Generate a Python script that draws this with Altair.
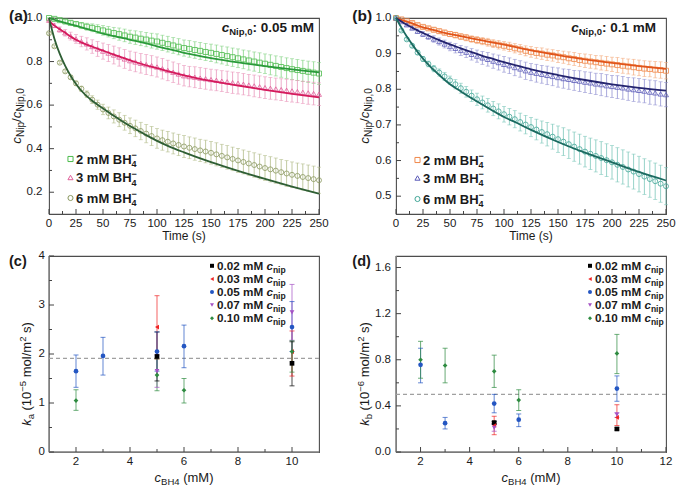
import altair as alt
import pandas as pd

FONT = "Liberation Sans"
INK = "#1a1a1a"
FRAME = "#4d4d4d"
TICK = "#444444"

# ---------------- data ----------------
t_data = list(range(0, 251, 5))
t_fit = [0, 5, 10, 15, 20, 25, 30, 40, 50, 60, 70, 80, 90, 100, 110, 125, 150, 175, 200, 225, 250]

# panel (a): c_Nip,0 = 0.05 mM
a2_val = [1.000, 0.996, 0.990, 0.984, 0.978, 0.972, 0.966, 0.960, 0.955, 0.949, 0.943,
          0.937, 0.931, 0.926, 0.920, 0.914, 0.910, 0.905, 0.901, 0.896, 0.892,
          0.886, 0.880, 0.874, 0.868, 0.862, 0.858, 0.853, 0.849, 0.844, 0.840,
          0.835, 0.830, 0.825, 0.820, 0.815, 0.810, 0.805, 0.800, 0.795, 0.790,
          0.785, 0.780, 0.775, 0.770, 0.765, 0.761, 0.757, 0.753, 0.749, 0.745]
a2_err = [0.003, 0.005, 0.007, 0.008, 0.009, 0.010, 0.013, 0.016, 0.018, 0.020, 0.022,
          0.024, 0.026, 0.028, 0.029, 0.030, 0.031, 0.032, 0.033, 0.034, 0.035,
          0.035, 0.036, 0.036, 0.037, 0.037, 0.038, 0.038, 0.039, 0.039, 0.040,
          0.041, 0.041, 0.042, 0.042, 0.043, 0.043, 0.044, 0.044, 0.045, 0.045,
          0.046, 0.046, 0.047, 0.047, 0.048, 0.048, 0.049, 0.049, 0.050, 0.050]
a2_fit = [1.000, 0.992, 0.985, 0.978, 0.971, 0.965, 0.957, 0.943, 0.928, 0.917, 0.906,
          0.895, 0.883, 0.870, 0.858, 0.840, 0.816, 0.796, 0.779, 0.764, 0.750]

a3_val = [0.990, 0.966, 0.947, 0.932, 0.917, 0.904, 0.892, 0.881, 0.869, 0.858, 0.848,
          0.839, 0.830, 0.821, 0.812, 0.804, 0.798, 0.792, 0.786, 0.781, 0.775,
          0.767, 0.759, 0.751, 0.743, 0.735, 0.731, 0.728, 0.724, 0.721, 0.717,
          0.714, 0.710, 0.707, 0.703, 0.700, 0.696, 0.692, 0.688, 0.684, 0.680,
          0.677, 0.674, 0.671, 0.668, 0.665, 0.662, 0.659, 0.656, 0.653, 0.650]
a3_err = [0.005, 0.010, 0.012, 0.015, 0.018, 0.020, 0.024, 0.028, 0.031, 0.034, 0.037,
          0.039, 0.041, 0.042, 0.043, 0.044, 0.045, 0.045, 0.046, 0.046, 0.046,
          0.047, 0.047, 0.047, 0.047, 0.047, 0.047, 0.048, 0.048, 0.048, 0.048,
          0.048, 0.048, 0.049, 0.049, 0.049, 0.049, 0.049, 0.050, 0.050, 0.050,
          0.050, 0.050, 0.050, 0.051, 0.051, 0.051, 0.051, 0.052, 0.052, 0.052]
a3_fit = [0.985, 0.965, 0.948, 0.932, 0.915, 0.900, 0.888, 0.868, 0.850, 0.832, 0.815,
          0.798, 0.783, 0.770, 0.756, 0.737, 0.711, 0.690, 0.670, 0.652, 0.636]

a6_val = [0.930, 0.870, 0.795, 0.755, 0.728, 0.700, 0.675, 0.650, 0.625, 0.602, 0.580,
          0.564, 0.548, 0.533, 0.519, 0.505, 0.493, 0.481, 0.469, 0.458, 0.447,
          0.439, 0.432, 0.424, 0.417, 0.410, 0.404, 0.398, 0.392, 0.387, 0.381,
          0.374, 0.367, 0.360, 0.353, 0.346, 0.339, 0.332, 0.325, 0.318, 0.311,
          0.305, 0.299, 0.292, 0.286, 0.280, 0.275, 0.270, 0.265, 0.260, 0.255]
a6_err = [0.004, 0.005, 0.006, 0.007, 0.008, 0.010, 0.012, 0.015, 0.018, 0.021, 0.024,
          0.027, 0.030, 0.032, 0.034, 0.036, 0.038, 0.040, 0.042, 0.044, 0.045,
          0.046, 0.047, 0.048, 0.049, 0.050, 0.050, 0.051, 0.051, 0.052, 0.052,
          0.053, 0.053, 0.054, 0.054, 0.055, 0.055, 0.056, 0.056, 0.057, 0.057,
          0.058, 0.058, 0.058, 0.059, 0.059, 0.059, 0.060, 0.060, 0.060, 0.060]
a6_fit = [1.000, 0.905, 0.835, 0.780, 0.735, 0.697, 0.666, 0.620, 0.585, 0.551, 0.519,
          0.490, 0.462, 0.436, 0.413, 0.383, 0.338, 0.298, 0.261, 0.226, 0.193]

# panel (b): c_Nip,0 = 0.1 mM
b2_val = [1.000, 0.996, 0.991, 0.986, 0.980, 0.975, 0.971, 0.967, 0.963, 0.959, 0.955,
          0.952, 0.948, 0.945, 0.941, 0.938, 0.935, 0.932, 0.928, 0.925, 0.922,
          0.919, 0.915, 0.912, 0.908, 0.905, 0.902, 0.900, 0.897, 0.895, 0.892,
          0.890, 0.887, 0.885, 0.882, 0.880, 0.878, 0.876, 0.874, 0.872, 0.870,
          0.868, 0.866, 0.864, 0.862, 0.860, 0.858, 0.857, 0.855, 0.854, 0.852]
b2_err = [0.002, 0.003, 0.003, 0.004, 0.004, 0.005, 0.005, 0.006, 0.006, 0.007, 0.007,
          0.008, 0.008, 0.009, 0.009, 0.010, 0.010, 0.011, 0.011, 0.012, 0.012,
          0.013, 0.013, 0.014, 0.014, 0.015, 0.015, 0.016, 0.016, 0.016, 0.017,
          0.017, 0.018, 0.018, 0.018, 0.019, 0.019, 0.019, 0.020, 0.020, 0.020,
          0.021, 0.021, 0.021, 0.022, 0.022, 0.022, 0.022, 0.023, 0.023, 0.023]
b2_fit = [1.000, 0.995, 0.990, 0.985, 0.979, 0.974, 0.970, 0.962, 0.955, 0.949, 0.943,
          0.937, 0.931, 0.925, 0.919, 0.909, 0.896, 0.884, 0.874, 0.865, 0.857]

b3_val = [1.000, 0.990, 0.981, 0.972, 0.963, 0.955, 0.948, 0.941, 0.934, 0.927, 0.920,
          0.915, 0.909, 0.904, 0.898, 0.893, 0.888, 0.884, 0.879, 0.875, 0.870,
          0.866, 0.861, 0.857, 0.852, 0.848, 0.845, 0.842, 0.839, 0.836, 0.833,
          0.830, 0.828, 0.825, 0.823, 0.820, 0.818, 0.815, 0.813, 0.810, 0.808,
          0.806, 0.804, 0.801, 0.799, 0.797, 0.795, 0.792, 0.790, 0.787, 0.785]
b3_err = [0.002, 0.003, 0.004, 0.005, 0.006, 0.007, 0.008, 0.009, 0.010, 0.011, 0.012,
          0.013, 0.014, 0.015, 0.016, 0.017, 0.018, 0.019, 0.020, 0.021, 0.022,
          0.022, 0.023, 0.023, 0.024, 0.024, 0.025, 0.025, 0.026, 0.026, 0.027,
          0.027, 0.028, 0.028, 0.029, 0.029, 0.030, 0.030, 0.031, 0.031, 0.031,
          0.032, 0.032, 0.032, 0.033, 0.033, 0.033, 0.034, 0.034, 0.034, 0.034]
b3_fit = [1.000, 0.990, 0.981, 0.973, 0.965, 0.958, 0.951, 0.938, 0.926, 0.915, 0.904,
          0.894, 0.885, 0.876, 0.868, 0.856, 0.840, 0.826, 0.814, 0.804, 0.796]

b6_val = [1.000, 0.965, 0.940, 0.922, 0.903, 0.885, 0.871, 0.858, 0.847, 0.836, 0.825,
          0.814, 0.803, 0.793, 0.782, 0.772, 0.763, 0.755, 0.746, 0.738, 0.730,
          0.723, 0.716, 0.708, 0.701, 0.694, 0.687, 0.680, 0.674, 0.667, 0.660,
          0.653, 0.646, 0.639, 0.632, 0.625, 0.619, 0.613, 0.607, 0.601, 0.595,
          0.588, 0.582, 0.575, 0.569, 0.562, 0.555, 0.548, 0.542, 0.535, 0.528]
b6_err = [0.002, 0.003, 0.004, 0.005, 0.006, 0.007, 0.008, 0.009, 0.010, 0.011, 0.012,
          0.013, 0.014, 0.015, 0.016, 0.017, 0.018, 0.019, 0.020, 0.021, 0.022,
          0.023, 0.024, 0.025, 0.026, 0.027, 0.029, 0.031, 0.033, 0.035, 0.037,
          0.039, 0.040, 0.041, 0.042, 0.043, 0.044, 0.045, 0.046, 0.046, 0.047,
          0.048, 0.048, 0.049, 0.049, 0.050, 0.050, 0.051, 0.051, 0.052, 0.052]
b6_fit = [1.000, 0.973, 0.948, 0.926, 0.905, 0.886, 0.869, 0.840, 0.814, 0.794, 0.775,
          0.757, 0.739, 0.722, 0.708, 0.686, 0.652, 0.622, 0.595, 0.568, 0.544]

decay_labels = ["2 mM BH", "3 mM BH", "6 mM BH"]

# panels (c) and (d)
cnip_series = ["0.02", "0.03", "0.05", "0.07", "0.10"]
cnip_labels = ["0.02 mM ", "0.03 mM ", "0.05 mM ", "0.07 mM ", "0.10 mM "]

c_x = {"0.02": [5, 10], "0.03": [5, 10], "0.05": [2, 3, 5, 6, 10], "0.07": [5, 10], "0.10": [2, 5, 6, 10]}
c_y = {"0.02": [1.95, 1.81], "0.03": [2.55, 2.05], "0.05": [1.65, 1.96, 2.05, 2.16, 2.55],
       "0.07": [1.65, 2.85], "0.10": [1.05, 1.57, 1.26, 2.05]}
c_lo = {"0.02": [1.45, 1.35], "0.03": [1.90, 1.55], "0.05": [1.32, 1.57, 1.65, 1.72, 2.05],
        "0.07": [1.32, 2.28], "0.10": [0.85, 1.25, 1.00, 1.63]}
c_hi = {"0.02": [2.45, 2.25], "0.03": [3.19, 2.47], "0.05": [1.98, 2.34, 2.45, 2.59, 3.07],
        "0.07": [1.98, 3.42], "0.10": [1.27, 1.90, 1.50, 2.27]}
c_mean = [1.91]

d_x = {"0.02": [5, 10], "0.03": [5, 10], "0.05": [2, 3, 5, 6, 10], "0.07": [5, 10], "0.10": [2, 3, 5, 6, 10]}
d_y = {"0.02": [0.255, 0.20], "0.03": [0.23, 0.30], "0.05": [0.756, 0.25, 0.42, 0.28, 0.55],
       "0.07": [0.21, 0.325], "0.10": [0.80, 0.75, 0.70, 0.45, 0.855]}
d_lo = {"0.02": [0.245, 0.19], "0.03": [0.15, 0.23], "0.05": [0.60, 0.20, 0.34, 0.22, 0.44],
        "0.07": [0.18, 0.30], "0.10": [0.64, 0.60, 0.56, 0.36, 0.68]}
d_hi = {"0.02": [0.265, 0.21], "0.03": [0.31, 0.41], "0.05": [0.90, 0.30, 0.50, 0.33, 0.66],
        "0.07": [0.24, 0.34], "0.10": [0.96, 0.90, 0.84, 0.54, 1.02]}
d_mean = [0.50]

SER_COLORS = ["#000000", "#f02424", "#2456c2", "#a552c4", "#2e8b40"]
SER_SHAPES = ["square", "triangle-left", "circle", "triangle-down", "diamond"]

# ---------------- helpers ----------------
W, H = 270, 196

REG = {" ": 278, "(": 333, ")": 333, ",": 278, ".": 278, "/": 278, ":": 278, "−": 584, "-": 333,
       "B": 667, "H": 722, "M": 833, "N": 722, "T": 611, "a": 556, "b": 556, "c": 500, "e": 556,
       "i": 222, "k": 500, "l": 222, "m": 833, "n": 556, "o": 556, "p": 556, "s": 500}
BOLD = {" ": 278, "(": 333, ")": 333, ",": 278, ".": 278, "/": 278, ":": 333, "−": 584, "-": 333,
        "B": 722, "H": 722, "M": 833, "N": 722, "T": 611, "a": 556, "b": 611, "c": 556, "e": 556,
        "i": 278, "k": 556, "l": 278, "m": 889, "n": 611, "o": 611, "p": 611, "s": 556}


def tw(s, size, bold):
    tab = BOLD if bold else REG
    return sum(tab.get(ch, 556) for ch in s) * size / 1000.0


DUMMY = pd.DataFrame({"k": [0]})


def txt(s, x, y, size, bold=False, italic=False, angle=None, baseline="alphabetic", align="left", color=INK):
    kw = dict(text=s, font=FONT, fontSize=size, fontWeight="bold" if bold else "normal",
              fontStyle="italic" if italic else "normal", baseline=baseline, align=align, color=color)
    if angle is not None:
        kw["angle"] = angle
    return alt.Chart(DUMMY).mark_text(**kw).encode(x=alt.value(x), y=alt.value(y))


def rich(pieces, x, y, anchor="left", rotate=False):
    total = sum(tw(p[0], p[1], p[2]) for p in pieces if len(p) < 6 or p[5])
    out = []
    cx = x - {"left": 0, "center": total / 2, "right": total}[anchor] if not rotate else x
    cy = y + total / 2 if rotate else y
    for p in pieces:
        s, size, bold, ital, shift = p[:5]
        lead = tw(s[:len(s) - len(s.lstrip(" "))], size, bold)
        body = s.strip(" ")
        if not rotate:
            out.append(txt(body, cx + lead, y + shift, size, bold, ital))
        else:
            out.append(txt(body, x + shift, cy - lead, size, bold, ital, angle=270))
        if len(p) < 6 or p[5]:
            if rotate:
                cy -= tw(s, size, bold)
            else:
                cx += tw(s, size, bold)
    return out


def frame_layers(xs, ys, xmaj, xmin, ymaj, ymin, xfmt, yfmt, ylabx, domain_line):
    xl = pd.DataFrame({"v": xmaj, "lab": [format(v, xfmt) for v in xmaj]})
    yl = pd.DataFrame({"v": ymaj, "lab": [format(v, yfmt) for v in ymaj]})
    lay = []
    if domain_line:
        lay += [
            alt.Chart(DUMMY).mark_rule(color="#8a8a8a", strokeWidth=1.6).encode(
                x=alt.value(0), y=alt.value(0), y2=alt.value(H)),
            alt.Chart(DUMMY).mark_rule(color="#8a8a8a", strokeWidth=1.6).encode(
                x=alt.value(0), x2=alt.value(W), y=alt.value(H)),
        ]
    lay += [
        alt.Chart(pd.DataFrame({"v": xmaj})).mark_rule(color=TICK, strokeWidth=1).encode(
            x=alt.X("v:Q", scale=xs, axis=None), y=alt.value(H), y2=alt.value(H - 5)),
        alt.Chart(pd.DataFrame({"v": xmin})).mark_rule(color=TICK, strokeWidth=1).encode(
            x=alt.X("v:Q", scale=xs, axis=None), y=alt.value(H), y2=alt.value(H - 3)),
        alt.Chart(pd.DataFrame({"v": ymaj})).mark_rule(color=TICK, strokeWidth=1).encode(
            y=alt.Y("v:Q", scale=ys, axis=None), x=alt.value(0), x2=alt.value(5)),
        alt.Chart(pd.DataFrame({"v": ymin})).mark_rule(color=TICK, strokeWidth=1).encode(
            y=alt.Y("v:Q", scale=ys, axis=None), x=alt.value(0), x2=alt.value(3)),
        alt.Chart(xl).mark_text(font=FONT, fontSize=11.5, color=INK, align="center", baseline="top").encode(
            x=alt.X("v:Q", scale=xs, axis=None), y=alt.value(H + 4), text="lab:N"),
        alt.Chart(yl).mark_text(font=FONT, fontSize=11.5, color=INK, align="right", baseline="middle").encode(
            y=alt.Y("v:Q", scale=ys, axis=None), x=alt.value(ylabx), text="lab:N"),
    ]
    return lay


def decay_series(vals, errs, pt_color, err_color, shape, xs, ys):
    df = pd.DataFrame([{"t": t, "v": v, "lo": v - e, "hi": v + e} for t, v, e in zip(t_data, vals, errs)])
    X = alt.X("t:Q", scale=xs, axis=None)
    base = alt.Chart(df)
    return [
        base.mark_rule(color=err_color, strokeWidth=0.8).encode(
            x=X, y=alt.Y("lo:Q", scale=ys, axis=None), y2="hi:Q"),
        base.mark_tick(color=err_color, orient="horizontal", size=4, thickness=0.8).encode(
            x=X, y=alt.Y("lo:Q", scale=ys, axis=None)),
        base.mark_tick(color=err_color, orient="horizontal", size=4, thickness=0.8).encode(
            x=X, y=alt.Y("hi:Q", scale=ys, axis=None)),
        base.mark_point(shape=shape, filled=False, size=25, strokeWidth=0.8, color=pt_color, opacity=1).encode(
            x=X, y=alt.Y("v:Q", scale=ys, axis=None)),
    ]


def fit_line(fit, color, xs, ys):
    fdf = pd.DataFrame({"t": t_fit, "f": fit})
    return alt.Chart(fdf).mark_line(color=color, strokeWidth=1.8, interpolate="monotone").encode(
        x=alt.X("t:Q", scale=xs, axis=None), y=alt.Y("f:Q", scale=ys, axis=None))


def decay_panel(label, label_x, ydom, ymaj, ymin, series, note, note_dx, ylabx, ytitle_x, leg_rows):
    xs = alt.Scale(domain=[0, 250], nice=False, zero=False)
    ys = alt.Scale(domain=ydom, nice=False, zero=False)
    layers = frame_layers(xs, ys, list(range(0, 251, 25)), [12.5 + 25 * i for i in range(10)],
                          ymaj, ymin, "d", ".1f", ylabx, False)
    layers.append(txt("Time (s)", W / 2, H + 26, 12, align="center"))
    for vals, errs, fit, pc, ec, lc, shp in series:
        layers += decay_series(vals, errs, pc, ec, shp, xs, ys)
    for vals, errs, fit, pc, ec, lc, shp in series:
        layers.append(fit_line(fit, lc, xs, ys))
    layers.append(txt(label, label_x, -9, 15.5, bold=True, baseline="top"))
    layers += rich([("c", 13.5, False, True, 0), ("Nip", 10, False, False, 3), ("/", 13.5, False, False, 0),
                    ("c", 13.5, False, True, 0), ("Nip,0", 10, False, False, 3)],
                   ytitle_x, H / 2, rotate=True)
    layers += rich([("c", 13.5, True, True, 0), ("Nip,0", 9.5, True, False, 3), (note, 13.5, True, False, 0)],
                   W - note_dx, 14, anchor="right")
    for (lab, (vals, errs, fit, pc, ec, lc, shp)), yc in zip(zip(decay_labels, series), leg_rows):
        layers.append(alt.Chart(DUMMY).mark_point(shape=shp, filled=False, size=26, strokeWidth=1,
                                                  color=pc, opacity=1).encode(x=alt.value(21.5), y=alt.value(yc)))
        layers += rich([(lab, 13, True, False, 0), ("4", 9, True, False, 3.5, False), ("−", 9, True, False, -5.5)],
                       27, yc + 4.5)
    return alt.layer(*layers).properties(width=W, height=H)


def scatter_panel(label, label_x, xdom, xmaj, xmin, ydom, ymaj, ymin, yfmt, ylabx,
                  xd, yd, lod, hid, mean, kletter, kexp, ytitle_x, leg_x):
    xs = alt.Scale(domain=xdom, nice=False, zero=False)
    ys = alt.Scale(domain=ydom, nice=False, zero=False)
    layers = frame_layers(xs, ys, xmaj, xmin, ymaj, ymin, "d", yfmt, ylabx, True)
    layers.append(alt.Chart(pd.DataFrame({"m": mean})).mark_rule(color="#a0a0a0", strokeDash=[4, 3],
                                                                  strokeWidth=1.1).encode(
        y=alt.Y("m:Q", scale=ys, axis=None)))
    rows = []
    for s in cnip_series:
        for x, y, lo, hi in zip(xd[s], yd[s], lod[s], hid[s]):
            rows.append({"s": s, "x": x, "y": y, "lo": lo, "hi": hi})
    df = pd.DataFrame(rows)
    col = alt.Color("s:N", scale=alt.Scale(domain=cnip_series, range=SER_COLORS), legend=None)
    shp = alt.Shape("s:N", scale=alt.Scale(domain=cnip_series, range=SER_SHAPES), legend=None)
    X = alt.X("x:Q", scale=xs, axis=None)
    base = alt.Chart(df)
    layers += [
        base.mark_rule(strokeWidth=1.1, opacity=0.65).encode(x=X, y=alt.Y("lo:Q", scale=ys, axis=None),
                                                             y2="hi:Q", color=col),
        base.mark_tick(orient="horizontal", size=5, thickness=1, opacity=0.7).encode(
            x=X, y=alt.Y("lo:Q", scale=ys, axis=None), color=col),
        base.mark_tick(orient="horizontal", size=5, thickness=1, opacity=0.7).encode(
            x=X, y=alt.Y("hi:Q", scale=ys, axis=None), color=col),
        base.mark_point(filled=True, size=22, opacity=1).encode(
            x=X, y=alt.Y("y:Q", scale=ys, axis=None), color=col, shape=shp),
    ]
    layers.append(txt(label, label_x, -1, 14.5, bold=True, baseline="top"))
    layers += rich([("k", 13, False, True, 0), (kletter, 9.5, False, False, 3), (" (10", 13, False, False, 0),
                    (kexp, 9.5, False, False, -5), (" mol/m", 13, False, False, 0), ("2", 9.5, False, False, -5),
                    (" s)", 13, False, False, 0)], ytitle_x, 118, rotate=True)
    layers += rich([("c", 13, False, True, 0), ("BH4", 9.5, False, False, 3), (" (mM)", 13, False, False, 0)],
                   W / 2, H + 30, anchor="center")
    for i, (lab, c, sh) in enumerate(zip(cnip_labels, SER_COLORS, SER_SHAPES)):
        yc = 9.8 + 13.1 * i
        layers.append(alt.Chart(DUMMY).mark_point(shape=sh, filled=True, size=16, color=c, opacity=1).encode(
            x=alt.value(leg_x), y=alt.value(yc)))
        layers += rich([(lab, 11.7, True, False, 0), ("c", 11.7, True, True, 0), ("nip", 8.5, True, False, 2.8)],
                       leg_x + 5, yc + 4)
    return alt.layer(*layers).properties(width=W, height=H)


pa = decay_panel("(a)", -40, [0.1, 1.0], [0.2, 0.4, 0.6, 0.8, 1.0], [0.3, 0.5, 0.7, 0.9],
                 [(a2_val, a2_err, a2_fit, "#4cbb4c", "#86d486", "#2a9a3a", "square"),
                  (a3_val, a3_err, a3_fit, "#e0609a", "#e996bb", "#d41a5c", "triangle-up"),
                  (a6_val, a6_err, a6_fit, "#8a9860", "#b3bd8a", "#2e5e34", "circle")],
                 ": 0.05 mM", 5, -6.5, -28.5, [141, 159.5, 180])
pb = decay_panel("(b)", -43.7, [0.45, 1.0], [0.5, 0.6, 0.7, 0.8, 0.9, 1.0], [0.55, 0.65, 0.75, 0.85, 0.95],
                 [(b2_val, b2_err, b2_fit, "#f0884a", "#f4ad80", "#e0541a", "square"),
                  (b3_val, b3_err, b3_fit, "#5a5ab8", "#9292d2", "#24246e", "triangle-up"),
                  (b6_val, b6_err, b6_fit, "#3fa596", "#7cc7ba", "#1b6a60", "circle")],
                 ": 0.1 mM", 10, -4.5, -27, [142, 160, 181])
pc = scatter_panel("(c)", -40, [1, 11], [2, 4, 6, 8, 10], [3, 5, 7, 9], [0, 4], [0, 1, 2, 3, 4],
                   [0.5, 1.5, 2.5, 3.5], "d", -4, c_x, c_y, c_lo, c_hi, c_mean, "a", "−5", -18, 163)
pd_ = scatter_panel("(d)", -43.7, [1, 12], [2, 4, 6, 8, 10, 12], [3, 5, 7, 9, 11], [0, 1.7],
                    [0, 0.4, 0.8, 1.2, 1.6], [0.2, 0.6, 1.0, 1.4], ".1f", -5, d_x, d_y, d_lo, d_hi, d_mean,
                    "b", "−6", -27, 194)

chart = alt.concat(pa, pb, pc, pd_, columns=2, spacing={"row": 42, "column": 77}, bounds="flush").properties(
    padding=0).configure_view(stroke=FRAME, strokeWidth=1.1)

chart.save("out.html", embed_options={"renderer": "svg", "actions": False})
